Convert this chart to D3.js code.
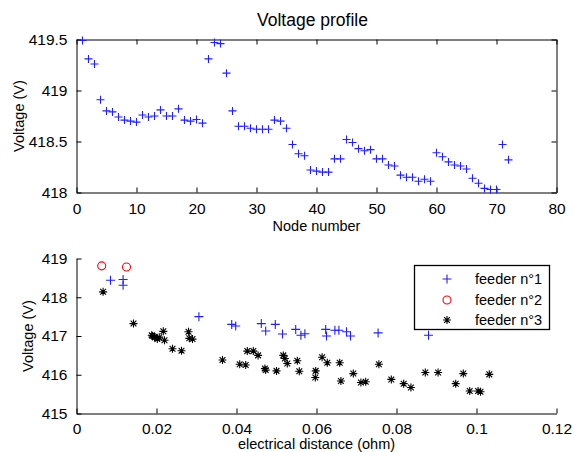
<!DOCTYPE html>
<html><head><meta charset="utf-8">
<script src="https://cdn.jsdelivr.net/npm/d3@7"></script>
<style>
body{margin:0;background:#fff;}
text{font-family:"Liberation Sans",Arial,sans-serif;fill:#000;}
</style></head>
<body>
<svg id="c" width="574" height="452"></svg>
<script>
// ---- Top plot data: voltage at each node ----
const nodeVoltage = [
 419.49,419.31,419.26,418.91,418.80,418.79,418.74,418.71,418.70,418.69,
 418.76,418.74,418.75,418.81,418.75,418.75,418.82,418.71,418.70,418.715,
 418.68,419.31,419.47,419.46,419.17,418.80,418.65,418.65,418.63,418.62,
 418.62,418.62,418.71,418.70,418.63,418.47,418.38,418.36,418.22,418.21,
 418.20,418.20,418.33,418.33,418.52,418.49,418.43,418.41,418.42,418.33,
 418.33,418.27,418.26,418.17,418.15,418.15,418.11,418.13,418.11,418.39,
 418.35,418.30,418.27,418.26,418.23,418.14,418.09,418.04,418.03,418.03,
 418.47,418.32
];
const topXTicks = [0,10,20,30,40,50,60,70,80];
const topYTicks = [418,418.5,419,419.5];

// ---- Bottom plot data: [electrical distance (ohm), voltage (V)] ----
const feeder1 = [
 [0.0085,418.44],[0.01165,418.46],[0.01165,418.31],[0.0306,417.50],
 [0.0388,417.30],[0.0398,417.26],[0.0462,417.32],[0.0473,417.13],
 [0.0497,417.30],[0.0515,417.05],[0.0548,417.17],[0.0561,417.02],
 [0.0571,417.06],[0.0623,417.17],[0.0625,417.00],[0.0646,417.15],
 [0.0656,417.15],[0.0675,417.11],[0.0685,417.00],[0.0754,417.08],
 [0.0880,417.02]
];
const feeder2 = [[0.0063,418.81],[0.0125,418.78]];
const feeder3 = [
 [0.00665,418.14],[0.01425,417.32],[0.0188,417.02],[0.0190,417.00],
 [0.0195,416.98],[0.0196,416.96],[0.0202,416.92],[0.0207,416.97],
 [0.0217,417.12],[0.0220,416.89],[0.0240,416.67],[0.02625,416.62],
 [0.0280,417.11],[0.0282,416.94],[0.0290,416.92],
 [0.0365,416.38],[0.0408,416.27],[0.0423,416.25],[0.0427,416.61],
 [0.0442,416.61],[0.0454,416.50],[0.0471,416.16],[0.0473,416.12],
 [0.0500,416.10],[0.0517,416.50],[0.0521,416.42],[0.0527,416.29],
 [0.0552,416.36],[0.0557,416.09],[0.0598,416.10],[0.0597,415.93],
 [0.0614,416.45],[0.0627,416.31],[0.0658,416.31],[0.0661,415.84],
 [0.0692,416.03],[0.0711,415.80],[0.0723,415.82],[0.0756,416.27],
 [0.0787,415.88],[0.0818,415.77],[0.0836,415.67],[0.0872,416.06],
 [0.0904,416.06],[0.0948,415.77],[0.0967,416.03],[0.0983,415.58],
 [0.1004,415.58],[0.1010,415.56],[0.1032,416.01]
];
const botXTicks = [0,0.02,0.04,0.06,0.08,0.1,0.12];
const botYTicks = [415,416,417,418,419];
const legendLabels = ["feeder n°1","feeder n°2","feeder n°3"];

const svg = d3.select("#c");
const FS = 14.5;   // axis labels / legend
const TFS = 15.5;  // tick labels
const BLUE = "#1f1fff";

function plus(g, x, y, color, s){
  g.append("path").attr("d",`M${x-s},${y}H${x+s}M${x},${y-s}V${y+s}`)
   .attr("stroke",color).attr("stroke-width",1.1).attr("fill","none");
}
function star(g, x, y, color, s){
  const d = s*0.72;
  g.append("path").attr("d",`M${x-s},${y}H${x+s}M${x},${y-s}V${y+s}M${x-d},${y-d}L${x+d},${y+d}M${x-d},${y+d}L${x+d},${y-d}`)
   .attr("stroke",color).attr("stroke-width",1.1).attr("fill","none");
}
function circ(g, x, y, color, r){
  g.append("circle").attr("cx",x).attr("cy",y).attr("r",r)
   .attr("stroke",color).attr("stroke-width",1.1).attr("fill","none");
}
function styleAxis(a){
  a.selectAll(".domain").attr("stroke","#000").attr("stroke-width",1);
  a.selectAll(".tick line").attr("stroke","#000");
  a.selectAll(".tick text").style("font-size",TFS+"px").attr("fill","#000");
}

// ---------- TOP PLOT ----------
const L=76.5, R=556.5;
const tx = d3.scaleLinear().domain([0,80]).range([L,R]);
const ty = d3.scaleLinear().domain([418,419.5]).range([192.5,39.5]);
const topG = svg.append("g");

let ax = topG.append("g").attr("transform",`translate(0,${192.5})`)
  .call(d3.axisBottom(tx).tickValues(topXTicks).tickSizeInner(-5).tickSizeOuter(0).tickPadding(10).tickFormat(d3.format("d")));
styleAxis(ax);
let axT = topG.append("g").attr("transform",`translate(0,${39.5})`)
  .call(d3.axisTop(tx).tickValues(topXTicks).tickSizeInner(-5).tickSizeOuter(0).tickFormat(""));
styleAxis(axT);
let ay = topG.append("g").attr("transform",`translate(${L},0)`)
  .call(d3.axisLeft(ty).tickValues(topYTicks).tickSizeInner(-5).tickSizeOuter(0).tickPadding(9).tickFormat(d=>String(d)));
styleAxis(ay);
let ayR = topG.append("g").attr("transform",`translate(${R},0)`)
  .call(d3.axisRight(ty).tickValues(topYTicks).tickSizeInner(-5).tickSizeOuter(0).tickFormat(""));
styleAxis(ayR);

nodeVoltage.forEach((v,i)=>plus(topG, tx(i+1), ty(v), BLUE, 4));

svg.append("text").attr("x",(L+R)/2 - 4).attr("y",26).attr("text-anchor","middle")
  .style("font-size","17.5px").text("Voltage profile");
svg.append("text").attr("x",(L+R)/2).attr("y",231).attr("text-anchor","middle")
  .style("font-size",FS+"px").text("Node number");
svg.append("text").attr("transform",`translate(24,116) rotate(-90)`).attr("text-anchor","middle")
  .style("font-size",FS+"px").text("Voltage (V)");

// ---------- BOTTOM PLOT ----------
const bx = d3.scaleLinear().domain([0,0.12]).range([L,R]);
const by = d3.scaleLinear().domain([415,419]).range([413.5,258.5]);
const botG = svg.append("g");
let bax = botG.append("g").attr("transform",`translate(0,413.5)`)
  .call(d3.axisBottom(bx).tickValues(botXTicks).tickSizeInner(-5).tickSizeOuter(0).tickPadding(9).tickFormat(d=>String(d)));
styleAxis(bax);
let bay = botG.append("g").attr("transform",`translate(${L},0)`)
  .call(d3.axisLeft(by).tickValues(botYTicks).tickSizeInner(-5).tickSizeOuter(0).tickPadding(9).tickFormat(d3.format("d")));
styleAxis(bay);

feeder1.forEach(d=>plus(botG, bx(d[0]), by(d[1]), BLUE, 4.5));
feeder2.forEach(d=>circ(botG, bx(d[0]), by(d[1]), "#ff0000", 4));
feeder3.forEach(d=>star(botG, bx(d[0]), by(d[1]), "#000000", 4));

svg.append("text").attr("x",(L+R)/2).attr("y",449).attr("text-anchor","middle")
  .style("font-size",FS+"px").text("electrical distance (ohm)");
svg.append("text").attr("transform",`translate(33,336) rotate(-90)`).attr("text-anchor","middle")
  .style("font-size",FS+"px").text("Voltage (V)");

// legend
const lg = svg.append("g");
lg.append("rect").attr("x",414.5).attr("y",265.5).attr("width",135).attr("height",64)
  .attr("fill","#fff").attr("stroke","#000").attr("stroke-width",1.3);
const rowsY = [279,300,320];
plus(lg, 447, rowsY[0], BLUE, 4.5);
circ(lg, 447, rowsY[1], "#ff0000", 4);
star(lg, 447, rowsY[2], "#000000", 4);
legendLabels.forEach((t,i)=>lg.append("text").attr("x",475).attr("y",rowsY[i]+5)
  .style("font-size",FS+"px").text(t));
</script>
</body></html>
